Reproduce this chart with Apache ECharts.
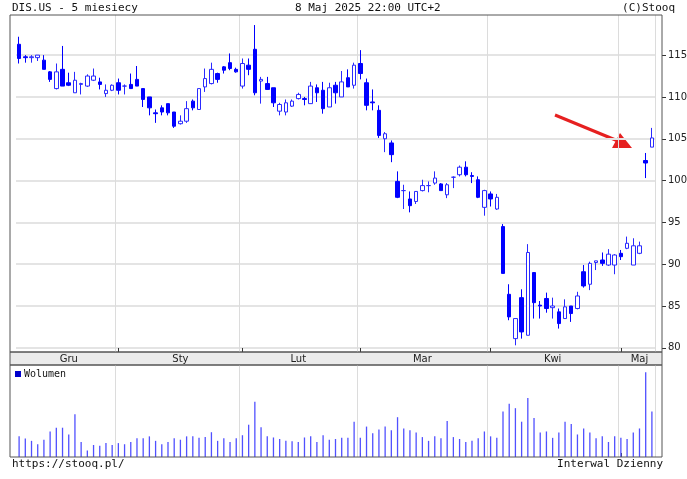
<!DOCTYPE html>
<html><head><meta charset="utf-8">
<script src="https://cdn.jsdelivr.net/npm/echarts@6/dist/echarts.min.js"></script>
<style>html,body{margin:0;padding:0;background:#fff}#c{width:687px;height:479px}</style>
</head><body><div id="c"></div>
<script>
// OHLC
const opens  = [116.3,114.8,114.7,114.7,114.4,113.0,111.0,113.3,111.7,110.5,111.5,111.3,112.0,111.8,110.4,110.8,111.7,111.3,111.5,112.1,111.0,110.0,108.1,108.7,109.2,108.2,106.8,107.1,109.5,108.5,111.2,111.6,112.8,113.6,114.1,113.3,
111.3,113.8,115.7,111.9,111.6,111.1,108.3,108.2,108.9,109.8,109.8,109.2,111.1,110.8,108.8,111.4,110.0,112.3,111.4,114.0,111.7,109.4,108.4,105.0,104.5,99.9,98.8,97.8,97.5,98.8,99.4,99.7,99.6,98.3,100.4,100.7,101.6,
100.6,100.1,96.8,98.4,96.6,94.5,86.4,81.1,86.0,81.5,89.0,85.1,85.9,84.8,84.3,83.5,85.0,84.7,89.1,87.6,90.2,90.5,89.9,89.9,91.3,91.9,89.9,91.3,102.4,104.0];
const closes = [114.6,114.7,114.8,115.0,113.3,112.1,113.0,111.3,111.4,112.0,111.6,112.5,112.5,111.5,110.8,111.4,110.8,111.3,111.0,111.3,109.7,108.7,108.0,108.2,108.1,106.5,107.1,108.6,108.7,111.0,112.2,113.3,112.1,113.2,113.4,113.0,
114.0,113.3,110.5,112.1,110.9,109.3,109.1,109.3,109.5,110.3,109.7,111.3,110.5,108.6,111.1,110.5,111.8,111.2,113.8,112.8,109.0,109.3,105.4,105.6,103.1,98.0,98.8,97.0,98.7,99.4,99.4,100.3,98.8,99.5,100.4,101.6,100.7,
100.5,98.0,98.8,97.8,98.0,88.9,83.7,83.5,81.9,91.4,85.4,85.0,84.7,85.0,82.9,84.9,84.1,86.2,87.4,90.1,90.4,90.1,91.2,91.1,90.9,92.5,92.2,92.2,102.1,105.1];
const lows   = [114.0,114.1,114.1,114.3,113.3,111.8,110.9,111.3,111.3,110.5,110.3,111.2,111.9,110.9,110.0,110.7,110.3,110.3,111.0,111.3,108.8,107.8,106.9,107.8,107.8,106.3,106.7,106.9,108.4,108.5,110.6,111.5,111.7,112.8,113.2,112.9,
111.0,112.6,110.2,109.2,110.9,108.8,107.8,107.8,108.8,109.7,109.0,109.2,109.4,108.0,108.8,109.2,110.0,111.2,111.0,112.1,108.4,108.4,105.1,103.4,102.2,97.9,96.6,96.2,97.2,98.7,98.6,99.5,98.8,97.9,99.1,100.5,100.5,
99.7,97.9,95.8,96.9,96.5,88.9,83.3,80.3,81.1,81.5,83.5,83.5,84.2,83.5,82.3,83.5,83.1,84.6,87.2,86.9,89.3,89.8,89.8,88.8,90.5,91.8,89.9,91.2,100.3,104.0];
const highs  = [117.2,115.0,115.0,115.0,115.0,113.1,114.0,116.1,112.9,113.0,111.7,112.7,113.4,112.3,111.5,111.5,112.2,111.5,112.8,113.7,111.0,110.0,108.5,109.0,109.2,108.2,107.8,109.5,109.7,111.0,113.4,114.1,112.9,113.7,115.2,113.5,
114.6,114.6,118.6,112.4,112.4,111.1,109.3,109.7,109.7,110.5,110.0,111.8,111.5,111.8,111.7,111.8,113.1,113.3,114.1,115.6,112.2,110.9,109.0,105.8,104.8,101.1,99.5,98.7,98.7,100.1,99.9,101.1,99.7,99.7,100.5,101.8,102.3,
101.0,100.5,98.9,98.7,98.4,94.8,87.6,83.5,87.0,92.4,89.0,85.6,86.6,86.0,84.7,85.8,85.0,86.7,89.9,90.3,90.4,91.4,91.8,91.2,91.7,93.3,93.1,92.7,103.3,106.3];
// volume (relative units)
const volumes = [55,49,43,34,46,68,78,78,60,114,40,17,32,30,37,32,37,34,40,50,50,55,43,34,40,50,46,55,55,51,53,66,43,50,40,50,58,86,147,79,55,52,48,43,42,40,52,55,40,58,46,
48,51,51,94,51,81,63,73,81,71,106,76,71,65,53,43,55,50,96,53,48,40,43,50,68,55,51,121,142,130,94,157,104,65,68,51,65,94,88,60,76,65,50,55,40,55,51,48,65,76,226,121];
const monthNames = ['Gru','Sty','Lut','Mar','Kwi','Maj'];
const priceTicks = [80,85,90,95,100,105,110,115];
const holidays = ['2024-12-25','2025-01-01','2025-01-09','2025-01-20','2025-02-17','2025-04-18'];

const dates = [];
{ let d = new Date(Date.UTC(2024,11,9));
  while (dates.length < opens.length) {
    const wd = d.getUTCDay(); const s = d.toISOString().slice(0,10);
    if (wd!==0 && wd!==6 && !holidays.includes(s)) dates.push(s);
    d.setUTCDate(d.getUTCDate()+1);
  } }
const monthOf = s => s.slice(0,7);
const firstIdx = new Set(), midIdx = new Map();
{ const groups = {};
  dates.forEach((s,i)=>{ (groups[monthOf(s)] = groups[monthOf(s)]||[]).push(i); if(i>0 && monthOf(dates[i-1])!==monthOf(s)) firstIdx.add(i); });
  Object.keys(groups).sort().forEach((k,j)=>{ const g=groups[k]; midIdx.set(g[Math.ceil((g.length-1)/2)], monthNames[j]); }); }

const ohlc = opens.map((o,i)=>[o,closes[i],lows[i],highs[i]]);
const chart = echarts.init(document.getElementById('c'));
const font = 'DejaVu Sans';
const mono = '11px "DejaVu Sans Mono"';
chart.setOption({
  animation:false,
  textStyle:{fontFamily:font},
  graphic:[
    {type:'rect',shape:{x:10,y:15,width:652,height:337},style:{fill:'none',stroke:'#555',lineWidth:1},z:100},
    {type:'rect',shape:{x:10,y:352,width:652,height:13},style:{fill:'#ebebeb',stroke:'#555',lineWidth:1},z:-1},
    {type:'rect',shape:{x:10,y:365,width:652,height:92},style:{fill:'none',stroke:'#555',lineWidth:1},z:100},
    {type:'text',left:12,top:3,style:{text:'DIS.US - 5 miesiecy',font:mono,fill:'#111'}},
    {type:'text',left:295,top:3,style:{text:'8 Maj 2025 22:00 UTC+2',font:mono,fill:'#111'}},
    {type:'text',right:12,top:3,style:{text:'(C)Stooq',font:mono,fill:'#111'}},
    {type:'text',left:12,top:459,style:{text:'https://stooq.pl/',font:mono,fill:'#111'}},
    {type:'text',right:24,top:459,style:{text:'Interwal Dzienny',font:mono,fill:'#111'}},
    {type:'rect',shape:{x:15,y:371,width:6,height:6},style:{fill:'#0000cc'}},
    {type:'text',left:24,top:369,style:{text:'Wolumen',font:'10px "DejaVu Sans Mono"',fill:'#111'}},
    {type:'line',shape:{x1:555,y1:115,x2:618,y2:141},style:{stroke:'#e62020',lineWidth:3}},
    {type:'polygon',shape:{points:[[632,148],[612,148],[620,133]]},style:{fill:'#e62020'}}
  ],
  grid:[
    {left:16,right:32,top:15,height:337,outerBoundsMode:'none',containLabel:false},
    {left:16,right:32,top:365,bottom:22,outerBoundsMode:'none',containLabel:false}
  ],
  xAxis:[
    {type:'category',gridIndex:0,data:dates,boundaryGap:true,
     axisLine:{show:false},
     axisTick:{show:true,alignWithLabel:true,interval:(i)=>firstIdx.has(i),length:-4,lineStyle:{color:'#333'}},
     splitLine:{show:true,interval:(i)=>firstIdx.has(i),lineStyle:{color:'#dcdcdc'}},
     axisLabel:{interval:(i)=>midIdx.has(i),formatter:(v,i)=>midIdx.get(i)||'',margin:2,fontSize:10,color:'#222',fontFamily:font}},
    {type:'category',gridIndex:1,data:dates,boundaryGap:true,
     axisLine:{show:false},axisLabel:{show:false},
     axisTick:{show:true,alignWithLabel:true,interval:(i)=>firstIdx.has(i),length:-4,lineStyle:{color:'#333'}},
     splitLine:{show:true,interval:(i)=>firstIdx.has(i),lineStyle:{color:'#dcdcdc'}}}
  ],
  yAxis:[
    {type:'value',gridIndex:0,position:'right',offset:7,min:79.5,max:119.8,
     axisLine:{show:false},
     axisTick:{show:true,customValues:priceTicks,length:4,lineStyle:{color:'#333'}},
     axisLabel:{customValues:priceTicks,fontSize:10,color:'#222',margin:6,fontFamily:font},
     splitLine:{show:true,lineStyle:{color:'#e4e4e4',width:2}}},
    {type:'value',gridIndex:1,position:'right',min:0,max:245,
     axisLine:{show:false},axisTick:{show:false},axisLabel:{show:false},splitLine:{show:false}}
  ],
  series:[
    {type:'candlestick',xAxisIndex:0,yAxisIndex:0,data:ohlc,barWidth:4,
     itemStyle:{color:'#ffffff',color0:'#0000ff',borderColor:'#2a2aff',borderColor0:'#0000ff',borderWidth:1}},
    {type:'bar',xAxisIndex:1,yAxisIndex:1,data:volumes,barWidth:1.3,itemStyle:{color:'#5050ff'}}
  ]
});
</script></body></html>
